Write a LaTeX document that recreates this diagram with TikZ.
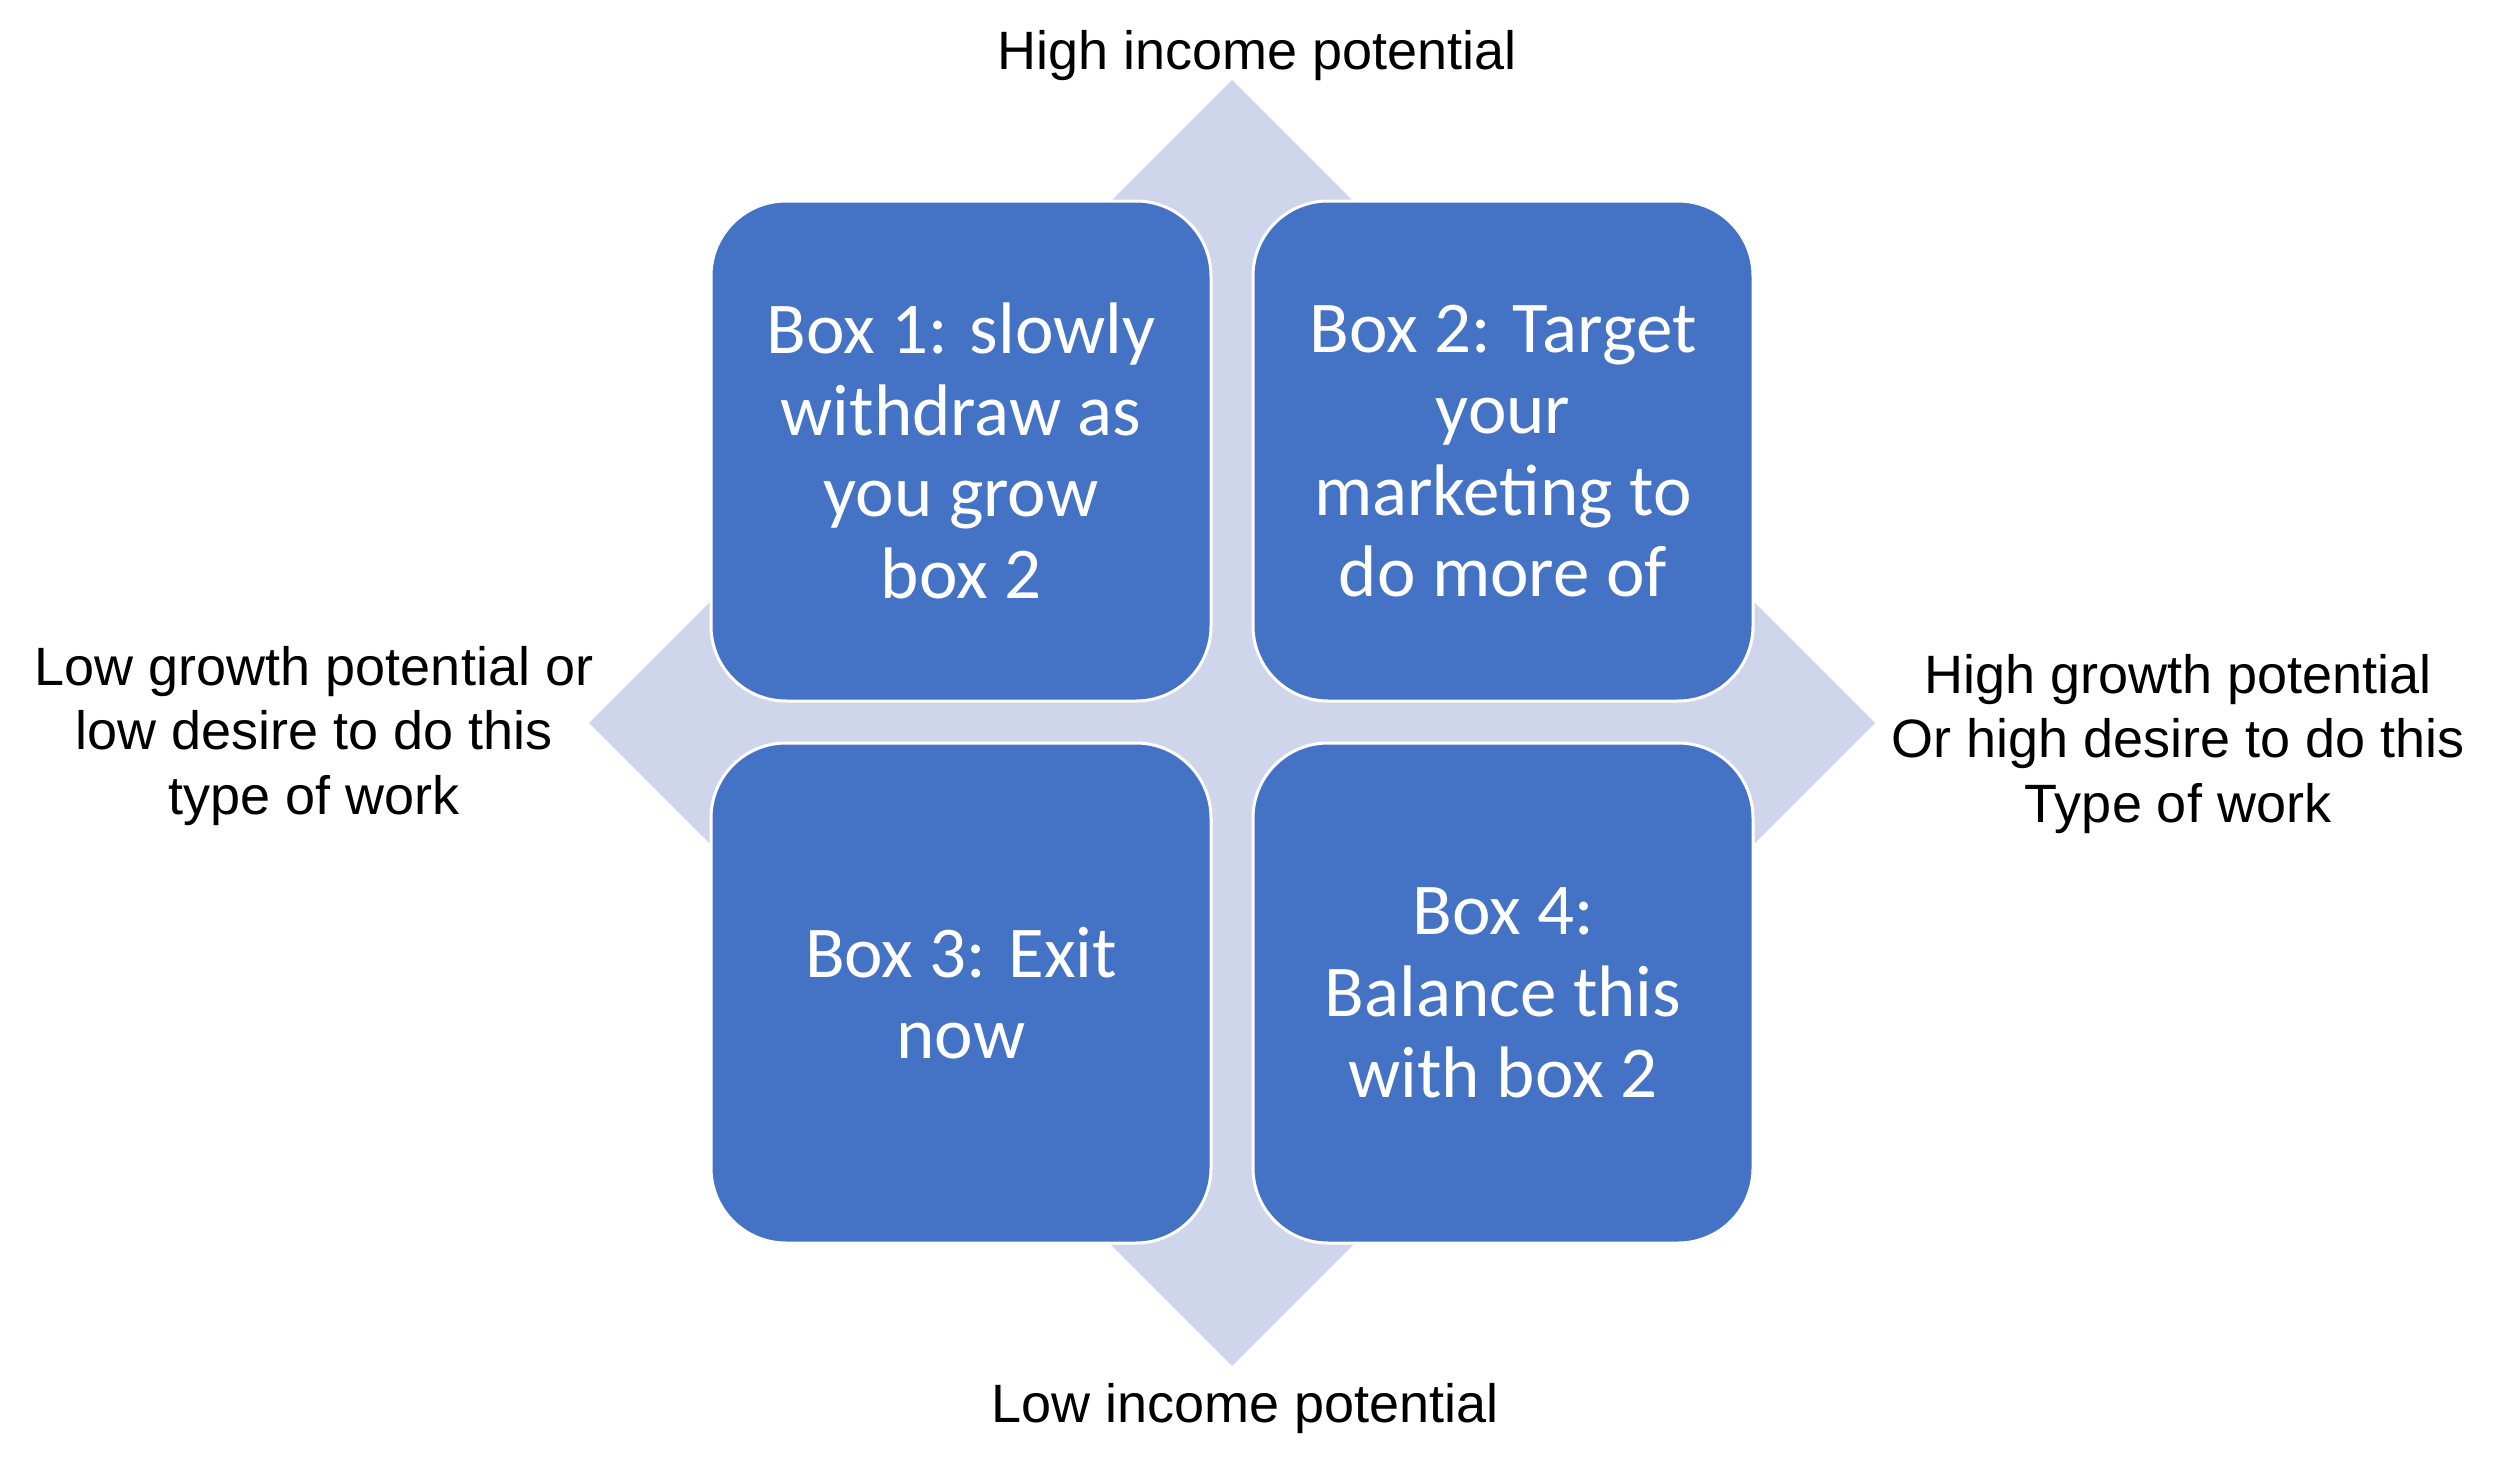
\documentclass[tikz,border=0pt]{standalone}
\usepackage{fontspec}
\setmainfont{Liberation Sans}
\newfontfamily\boxfont{Carlito}
\definecolor{boxblue}{HTML}{4472C4}
\definecolor{diamondfill}{HTML}{CFD5EA}
\begin{document}
\begin{tikzpicture}[x=1pt,y=-1pt,
 quad/.style={draw=white, line width=3pt, fill=boxblue, rounded corners=75pt,
   minimum width=500pt, minimum height=500pt, inner sep=0pt, text=white,
   align=center, font=\boxfont\fontsize{73}{81.5}\selectfont},
 axislabel/.style={anchor=base, align=center, inner sep=0pt,
   font=\fontsize{54}{64.5}\selectfont}]
\useasboundingbox (0,0) rectangle (2500,1469);
\fill[diamondfill] (1232,80) -- (1875,723) -- (1232,1366) -- (589,723) -- cycle;
\node[quad] (b1) at (961,451) {Box 1: slowly\\withdraw as\\you grow\\box 2};
\node[quad] (b2) at (1503,451) {Box 2: Target\\your\\marketing to\\do more of};
\node[quad] (b3) at (961,993) {Box 3: Exit\\now};
\node[quad] (b4) at (1503,993) {Box 4:\\Balance this\\with box 2};
\node[axislabel] (top) at (1257,70) {High income potential};
\node[axislabel] (bottom) at (1245,1422) {Low income potential};
\node[axislabel] (left) at (314,814) {Low growth potential or\\low desire to do this\\type of work};
\node[axislabel] (right) at (2178,822) {High growth potential\\Or high desire to do this\\Type of work};
\end{tikzpicture}
\end{document}
